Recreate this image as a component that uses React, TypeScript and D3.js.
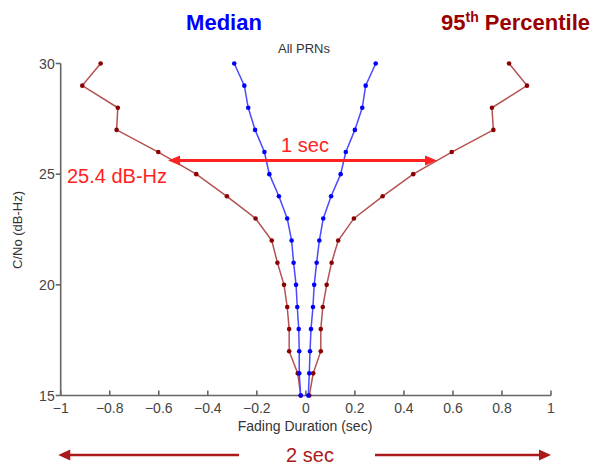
import React from "react";
import * as d3 from "d3";

const levels = [15, 16, 17, 18, 19, 20, 21, 22, 23, 24, 25, 26, 27, 28, 29, 30];
const medianLeft = [-0.021, -0.027, -0.027, -0.029, -0.035, -0.04, -0.05, -0.058, -0.076, -0.11, -0.149, -0.169, -0.207, -0.235, -0.251, -0.292];
const medianRight = [0.01, 0.014, 0.017, 0.021, 0.029, 0.034, 0.044, 0.055, 0.071, 0.103, 0.142, 0.163, 0.2, 0.23, 0.244, 0.285];
const p95Left = [-0.021, -0.033, -0.068, -0.068, -0.076, -0.089, -0.116, -0.139, -0.205, -0.322, -0.447, -0.602, -0.772, -0.767, -0.912, -0.837];
const p95Right = [0.014, 0.03, 0.061, 0.061, 0.069, 0.085, 0.105, 0.132, 0.196, 0.313, 0.438, 0.595, 0.765, 0.759, 0.902, 0.829];

const xTicks = [-1, -0.8, -0.6, -0.4, -0.2, 0, 0.2, 0.4, 0.6, 0.8, 1];
const yTicks = [15, 20, 25, 30];

const oneSecArrow = { from: -0.562, to: 0.535, level: 25.62 };
const twoSecArrow = { from: -1.01, to: 1.0 };

const FONT = "'Liberation Sans', Arial, sans-serif";

export default function App() {
  const x = d3.scaleLinear().domain([-1, 1]).range([60.7, 551]);
  const y = d3.scaleLinear().domain([15, 30]).range([395.5, 63.5]);

  const line = d3
    .line<[number, number]>()
    .x((d) => x(d[0]))
    .y((d) => y(d[1]));

  const series = [
    { vals: p95Left, line: "#b45252", mark: "#8b0000" },
    { vals: p95Right, line: "#b45252", mark: "#8b0000" },
    { vals: medianLeft, line: "#4a4aff", mark: "#0000ff" },
    { vals: medianRight, line: "#4a4aff", mark: "#0000ff" },
  ];

  const arrowY = y(oneSecArrow.level);
  const ax1 = x(oneSecArrow.from);
  const ax2 = x(oneSecArrow.to);
  const bx1 = x(twoSecArrow.from);
  const bx2 = x(twoSecArrow.to);
  const by = 455;

  return (
    <svg
      width={595}
      height={466}
      style={{ position: "absolute", left: 0, top: 0, background: "#fff" }}
      fontFamily={FONT}
    >
      {/* titles */}
      <text x={224} y={30} textAnchor="middle" fontSize={22} fontWeight="bold" fill="#0000ff">
        Median
      </text>
      <text x={441} y={30} fontSize={22} fontWeight="bold" fill="#9b0000">
        95<tspan fontSize={14} dy={-8}>th</tspan>
        <tspan dy={8}> Percentile</tspan>
      </text>
      <text x={304} y={53} textAnchor="middle" fontSize={13} fill="#333">
        All PRNs
      </text>

      {/* axes */}
      <g stroke="#666" strokeWidth={1.6} fill="none">
        <line x1={x(-1)} x2={x(1)} y1={y(15)} y2={y(15)} />
        <line x1={x(-1)} x2={x(-1)} y1={y(15)} y2={y(30)} />
        {xTicks.map((t) => (
          <line key={"xt" + t} x1={x(t)} x2={x(t)} y1={y(15)} y2={y(15) - 5} />
        ))}
        {yTicks.map((t) => (
          <line key={"yt" + t} x1={x(-1)} x2={x(-1) - 5} y1={y(t)} y2={y(t)} />
        ))}
      </g>
      <g fontSize={14} fill="#444">
        {xTicks.map((t) => (
          <text key={"xl" + t} x={x(t)} y={413} textAnchor="middle">
            {d3.format("")(+t.toFixed(1))}
          </text>
        ))}
        {yTicks.map((t) => (
          <text key={"yl" + t} x={x(-1) - 6} y={y(t) + 5} textAnchor="end">
            {t}
          </text>
        ))}
      </g>
      <text x={305} y={431} textAnchor="middle" fontSize={14} fill="#333">
        Fading Duration (sec)
      </text>
      <text
        transform={`translate(22,230) rotate(-90)`}
        textAnchor="middle"
        fontSize={13}
        fill="#333"
      >
        C/No (dB-Hz)
      </text>

      {/* series */}
      {series.map((s, i) => {
        const pts: [number, number][] = s.vals.map((v, j) => [v, levels[j]]);
        return (
          <g key={i}>
            <path d={line(pts) || ""} fill="none" stroke={s.line} strokeWidth={1.5} />
            {pts.map((p, j) => (
              <circle key={j} cx={x(p[0])} cy={y(p[1])} r={2.3} fill={s.mark} />
            ))}
          </g>
        );
      })}

      {/* 1 sec arrow */}
      <line x1={ax1 + 8} x2={ax2 - 8} y1={arrowY} y2={arrowY} stroke="#ff2222" strokeWidth={3} />
      <path d={`M${ax1},${arrowY} L${ax1 + 12},${arrowY - 5} L${ax1 + 12},${arrowY + 5} Z`} fill="#ff2222" />
      <path d={`M${ax2},${arrowY} L${ax2 - 12},${arrowY - 5} L${ax2 - 12},${arrowY + 5} Z`} fill="#ff2222" />
      <text x={305} y={152} textAnchor="middle" fontSize={20} fill="#ff2222">
        1 sec
      </text>
      <text x={67} y={183} fontSize={20} fill="#ff2222">
        25.4 dB-Hz
      </text>

      {/* 2 sec arrow */}
      <line x1={bx1 + 8} x2={239} y1={by} y2={by} stroke="#aa1a1a" strokeWidth={2.5} />
      <line x1={375} x2={bx2 - 8} y1={by} y2={by} stroke="#aa1a1a" strokeWidth={2.5} />
      <path d={`M${bx1},${by} L${bx1 + 12},${by - 5.5} L${bx1 + 12},${by + 5.5} Z`} fill="#aa1a1a" />
      <path d={`M${bx2},${by} L${bx2 - 12},${by - 5.5} L${bx2 - 12},${by + 5.5} Z`} fill="#aa1a1a" />
      <text x={310} y={462} textAnchor="middle" fontSize={20} fill="#aa1a1a">
        2 sec
      </text>
    </svg>
  );
}
